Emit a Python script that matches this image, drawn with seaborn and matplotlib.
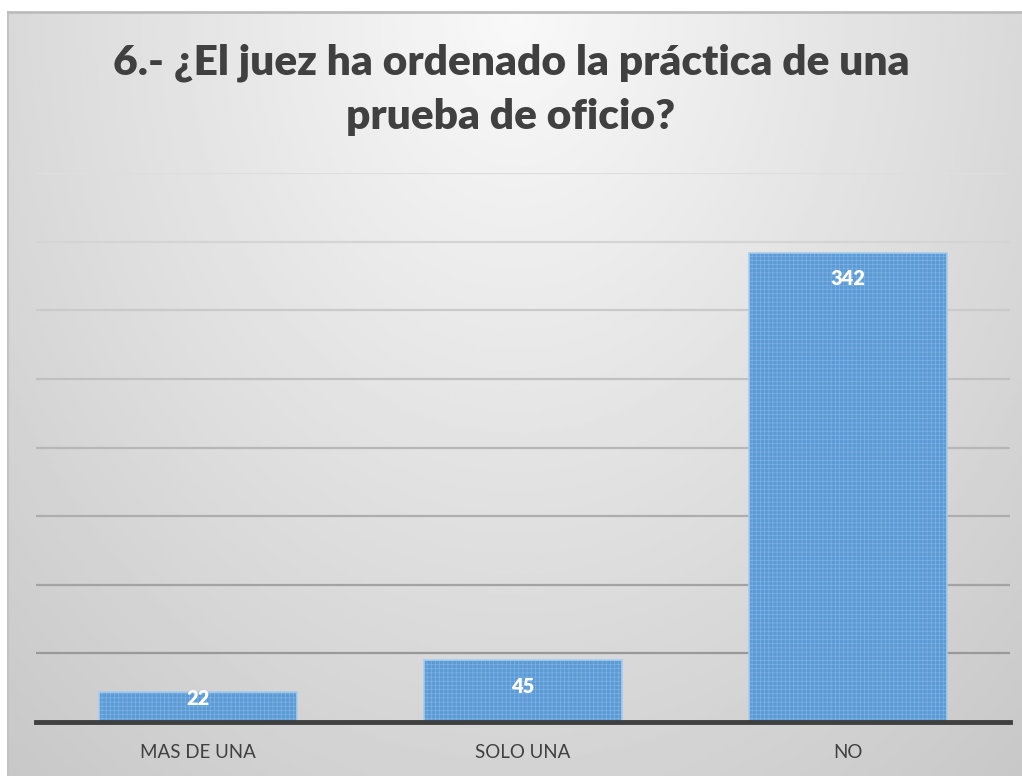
import numpy as np
import pandas as pd
import matplotlib.pyplot as plt
import seaborn as sns

# data
categories = ["MAS DE UNA", "SOLO UNA", "NO"]
counts = [22, 45, 342]
title = "6.- ¿El juez ha ordenado la práctica de una\nprueba de oficio?"
y_max = 400
y_step = 50

df = pd.DataFrame({"respuesta": categories, "total": counts})

sns.set_theme(style="white")
plt.rcParams["font.family"] = ["Lato", "DejaVu Sans"]
plt.rcParams["hatch.linewidth"] = 0.5

fig = plt.figure(figsize=(10.22, 7.76), dpi=100)
fig.patch.set_facecolor("white")

# background panel with a soft radial gradient (chart area)
bg = fig.add_axes([8 / 1022, 0, 1 - 8 / 1022, 1 - 12 / 776])
bg.set_zorder(0)
gx, gy = np.meshgrid(np.linspace(-1, 1, 300), np.linspace(0, 1, 300))
r = np.sqrt((gx * 0.85) ** 2 + (gy * 1.0) ** 2)
shade = 0.975 - 0.19 * np.clip(r, 0, 1.3) / 1.3
bg.imshow(shade, cmap="gray", vmin=0, vmax=1, aspect="auto",
          extent=[0, 1, 0, 1], origin="upper")
bg.set_xlim(0, 1)
bg.set_ylim(0, 1)
bg.set_xticks([])
bg.set_yticks([])
for side in ["right", "bottom"]:
    bg.spines[side].set_visible(False)
bg.spines["top"].set_color("#bcbcbc")
bg.spines["top"].set_linewidth(2)
bg.spines["left"].set_color("#c4c4c4")
bg.spines["left"].set_linewidth(1.5)

# main plot
ax = fig.add_axes([36 / 1022, 1 - 722 / 776, 974 / 1022, (722 - 173) / 776])
ax.set_zorder(1)
ax.patch.set_alpha(0)

sns.barplot(data=df, x="respuesta", y="total", color="#5b9bd5", width=0.61,
            saturation=1, ax=ax, zorder=3)
for bar in ax.patches:
    # hatch takes the edge colour, keep it close to the fill for a fine texture
    bar.set_edgecolor("#7fb1e2")
    bar.set_linewidth(0)
    bar.set_hatch("++++")
    # thin light outline on top
    ax.add_patch(plt.Rectangle(bar.get_xy(), bar.get_width(), bar.get_height(),
                               fill=False, edgecolor="#a8cbee", linewidth=1.2,
                               zorder=3.5))

ax.set_ylim(0, y_max)
ax.set_yticks(np.arange(y_step, y_max + 1, y_step))
ax.yaxis.grid(True, zorder=1)
grid_lines = ax.get_ygridlines()
for i, gl in enumerate(grid_lines):
    # gridlines fade towards the top like in the original
    frac = i / max(len(grid_lines) - 1, 1)
    c = 0.60 + 0.27 * frac
    gl.set_color((c, c, c))
    gl.set_linewidth(1.6)
ax.tick_params(axis="y", left=False, labelleft=False)
ax.tick_params(axis="x", bottom=False, labelsize=13.5, labelcolor="#404040", pad=10)

for side in ["top", "right", "left"]:
    ax.spines[side].set_visible(False)
ax.spines["bottom"].set_color("#404040")
ax.spines["bottom"].set_linewidth(3.5)
ax.spines["bottom"].set_zorder(4)

ax.set_xlabel("")
ax.set_ylabel("")

# value labels, inside the end of each bar
for i, v in enumerate(counts):
    ypos = max(v - 19, 16.8)
    ax.text(i, ypos, str(v), ha="center", va="center", color="white",
            fontsize=14.5, fontweight="heavy", zorder=5)

fig.text(0.5, 1 - 90 / 776, title, ha="center", va="center", fontsize=30.5,
         fontweight="heavy", color="#404040", linespacing=1.5)

fig.savefig("out.png", dpi=100)
